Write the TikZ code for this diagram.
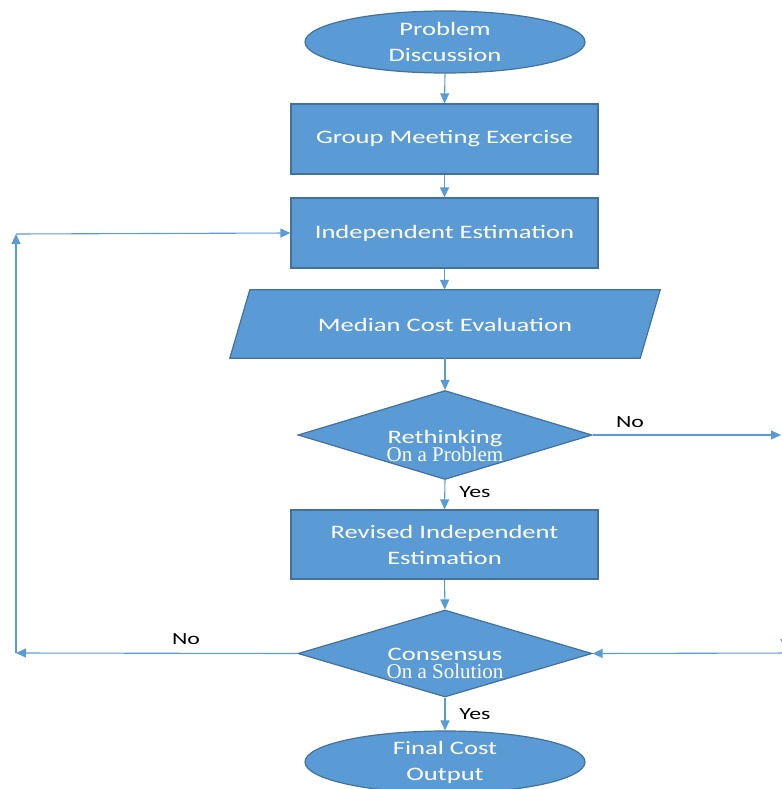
\documentclass[tikz,border=0pt]{standalone}
\usepackage{fontspec}
\setmainfont{Carlito}[FakeStretch=1.4]
\newfontfamily\serifline{Liberation Serif}
\usetikzlibrary{shapes.geometric,arrows.meta}
\definecolor{boxblue}{RGB}{91,155,213}
\definecolor{edgeblue}{RGB}{65,113,156}
\definecolor{lineblue}{RGB}{91,155,213}
\begin{document}
\begin{tikzpicture}[x=1pt,y=-1pt,
  shapefill/.style={draw=edgeblue, fill=boxblue, line width=1.2pt},
  block/.style={shapefill, text=white,
    font=\fontsize{19}{26}\selectfont, align=center, inner sep=0pt},
  procbox/.style={block, rectangle, minimum width=307pt, minimum height=70pt},
  terminal/.style={block, ellipse, minimum width=280pt, minimum height=62pt},
  decision/.style={block, diamond, minimum width=294pt, minimum height=89pt},
  dtext/.style={text=white, align=center, inner sep=0pt,
    font=\fontsize{19}{18}\selectfont},
  flow/.style={draw=lineblue, line width=1.1pt, -{Triangle[length=10pt,width=9pt]}},
  lbl/.style={font=\fontsize{17}{20}\selectfont, text=black, inner sep=0pt}
]
\useasboundingbox (0,0) rectangle (781,789);

% main column
\node[terminal] (disc) at (445,42) {Problem\\Discussion};
\node[procbox] (meet) at (444.5,139) {Group Meeting Exercise};
\node[procbox] (ind) at (444.5,233) {Independent Estimation};

% parallelogram: a plain frame node carries the name, the slanted outline is drawn on it
\node[rectangle, minimum width=410pt, minimum height=68pt, inner sep=0pt] (med) at (445,324) {};
\filldraw[shapefill] ([xshift=10pt]med.north west) -- ([xshift=10pt]med.north east)
  -- ([xshift=-10pt]med.south east) -- ([xshift=-10pt]med.south west) -- cycle;
\node[text=white, font=\fontsize{19}{26}\selectfont, inner sep=0pt] (medT) at (445,325) {Median Cost Evaluation};

\node[decision] (rethink) at (445,435) {};
\node[dtext] (rethinkT) at (445,446)
  {Rethinking\\{\serifline\fontsize{21}{18}\selectfont On a Problem}};
\node[procbox, minimum height=69pt] (rev) at (444.5,544.5) {Revised Independent\\Estimation};
\node[decision, minimum height=87pt] (cons) at (445,653.5) {};
\node[dtext] (consT) at (445,663)
  {Consensus\\{\serifline\fontsize{21}{18}\selectfont On a Solution}};
\node[terminal] (final) at (445,762) {Final Cost\\Output};

% vertical flow
\draw[flow] (disc.south) -- (meet.north);
\draw[flow] (meet.south) -- (ind.north);
\draw[flow] (ind.south) -- (ind.south |- med.north);
\draw[flow] (med.south) -- (rethink.north);
\draw[flow] (rethink.south) -- (rev.north);
\draw[flow] (rev.south) -- (cons.north);
\draw[flow] (cons.south) -- (final.north);

% loop back on the left
\coordinate (lc) at (16,653);
\coordinate (lt) at (16,234);
\draw[flow] (cons.west) -- (lc);
\draw[flow] (lc) -- (lt);
\draw[flow] (lt) -- (ind.west);

% branch on the right
\coordinate (rout) at (781,435);
\coordinate (rin) at (795,653);
\coordinate (rdowna) at (785,615);
\coordinate (rdownb) at (785,649);
\draw[flow] (rethink.east) -- (rout);
\draw[flow] (rin) -- (cons.east);
\draw[flow] (rdowna) -- (rdownb);

% branch labels
\node[lbl] (noR) at (630,422) {No};
\node[lbl] (noL) at (186,639) {No};
\node[lbl] (yesA) at (475,492) {Yes};
\node[lbl] (yesB) at (475,714) {Yes};
\end{tikzpicture}
\end{document}
